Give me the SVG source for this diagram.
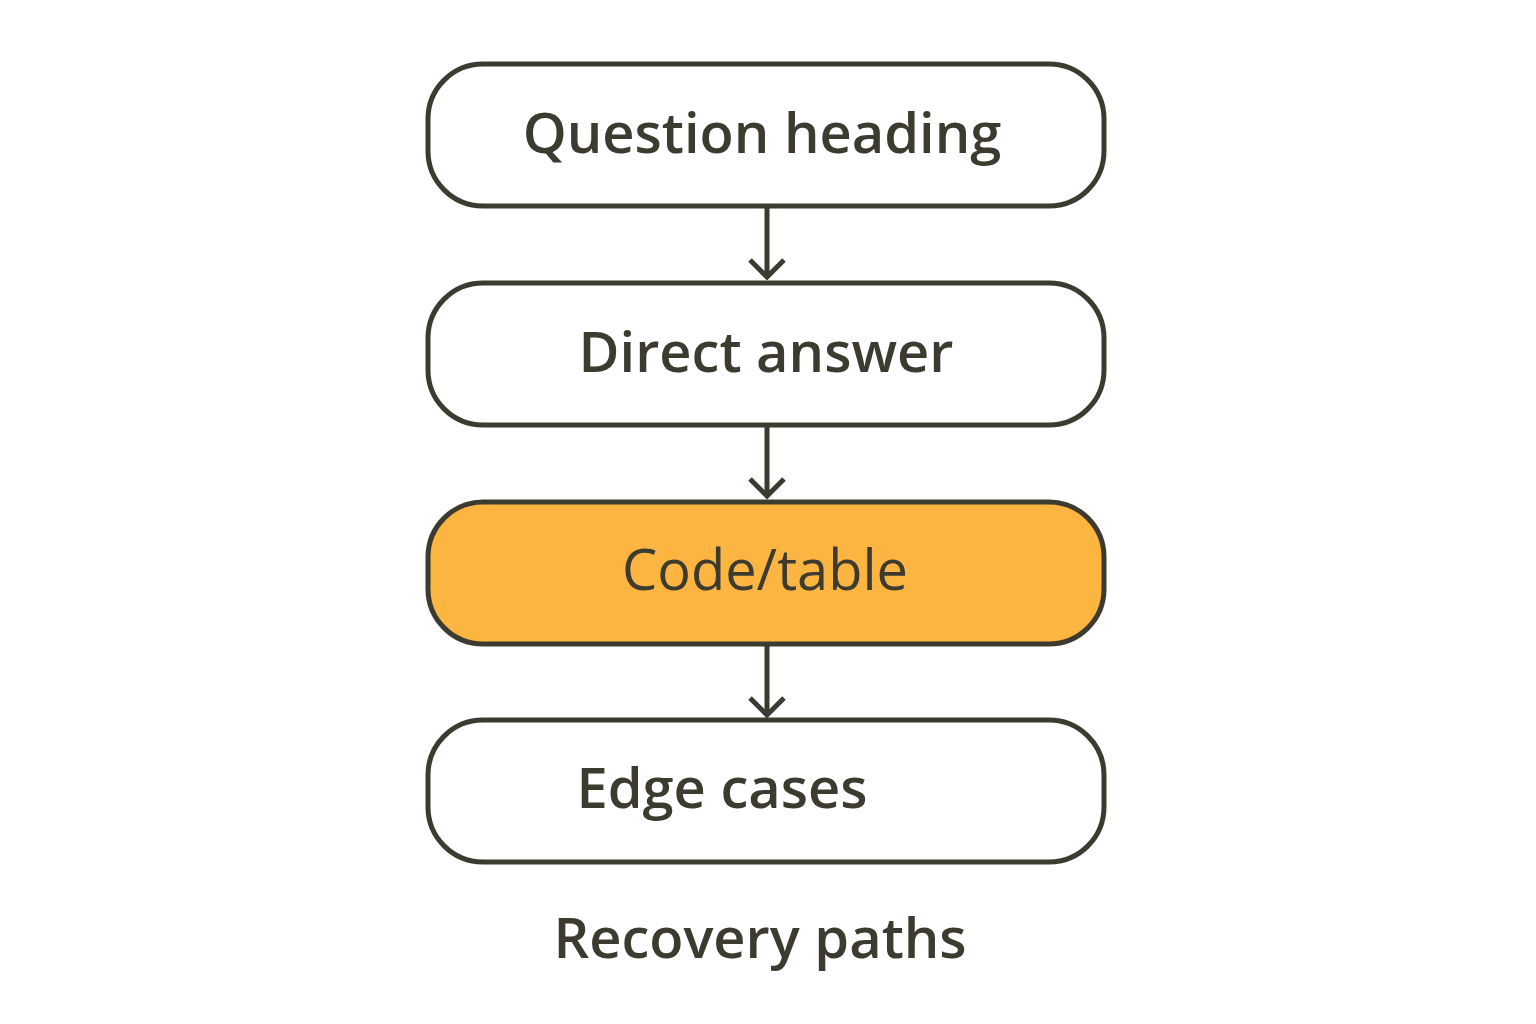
<svg xmlns="http://www.w3.org/2000/svg" width="1536" height="1024" viewBox="0 0 1536 1024">
<style>
.box{fill:#fff;stroke:#3d3b30;stroke-width:5}
.hl{fill:#fbb540}
.t{font-family:"Open Sans","Noto Sans",sans-serif;font-size:56px;fill:#3d3b30;text-anchor:middle}
.c{stroke:#3d3b30;stroke-width:5;fill:none}
</style>
<rect width="1536" height="1024" fill="#fff"/>
<g id="n1"><rect class="box" x="428" y="64" width="676" height="142" rx="55"/><text class="t" x="762" y="153" font-weight="600">Question heading</text></g>
<g id="n2"><rect class="box" x="428" y="283" width="676" height="142" rx="55"/><text class="t" x="766" y="372" font-weight="600">Direct answer</text></g>
<g id="n3"><rect class="box hl" x="428" y="502" width="676" height="142" rx="55"/><text class="t" x="765" y="590">Code/table</text></g>
<g id="n4"><rect class="box" x="428" y="720" width="676" height="142" rx="55"/><text class="t" x="722" y="808" font-weight="600">Edge cases</text></g>
<text class="t" x="760" y="958" font-weight="600">Recovery paths</text>
<g id="connectors">
<path class="c" d="M767 206V278M750 260L767 277L784 260"/>
<path class="c" d="M767 425V497M750 479L767 496L784 479"/>
<path class="c" d="M767 644V716M750 698L767 715L784 698"/>
</g>
</svg>
